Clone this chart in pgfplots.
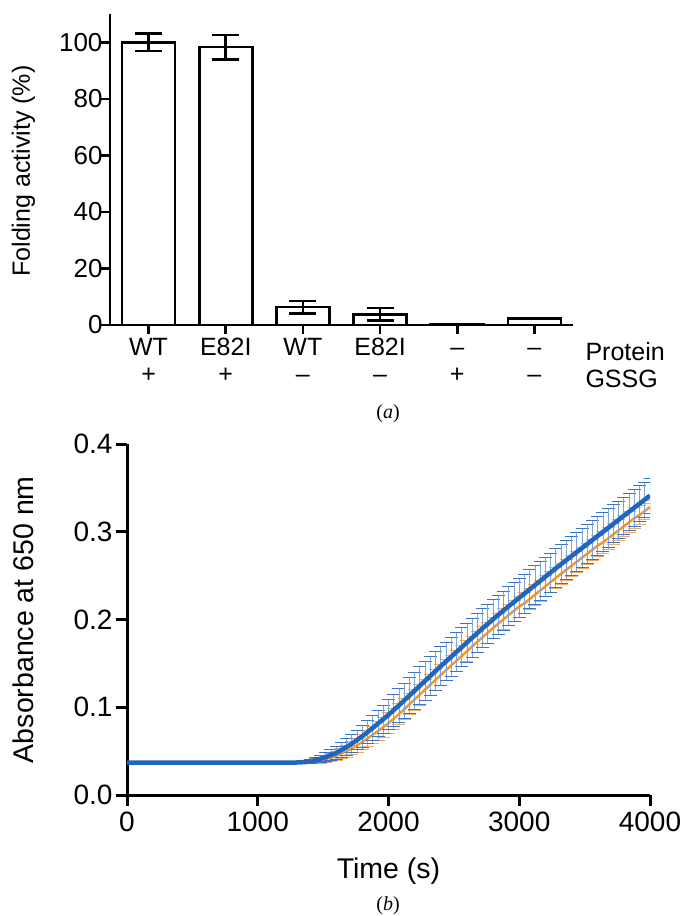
\documentclass[border=0pt]{standalone}
\usepackage{fontspec}
\setmainfont{Liberation Sans}
\newfontfamily\capfont{Liberation Serif}
\usepackage{pgfplots}
\usepackage{pgfplotstable}
\pgfplotsset{compat=1.18}
\definecolor{blueline}{RGB}{33,102,188}
\definecolor{blueerr}{RGB}{125,165,218}
\definecolor{bluecap}{RGB}{60,115,195}
\definecolor{orangeline}{RGB}{240,150,50}
\definecolor{orangeerr}{RGB}{236,170,100}

% absorbance traces: t, blue mean, blue sd, orange mean, orange sd
\pgfplotstableread{
t b be o oe
0 0.0370 0.0010 0.0370 0.0010
40 0.0370 0.0010 0.0370 0.0010
80 0.0370 0.0010 0.0370 0.0010
120 0.0370 0.0010 0.0370 0.0010
160 0.0370 0.0010 0.0370 0.0010
200 0.0370 0.0010 0.0370 0.0010
240 0.0370 0.0010 0.0370 0.0010
280 0.0370 0.0010 0.0370 0.0010
320 0.0370 0.0010 0.0370 0.0010
360 0.0370 0.0010 0.0370 0.0010
400 0.0370 0.0010 0.0370 0.0010
440 0.0370 0.0010 0.0370 0.0010
480 0.0370 0.0010 0.0370 0.0010
520 0.0370 0.0010 0.0370 0.0010
560 0.0370 0.0010 0.0370 0.0010
600 0.0370 0.0010 0.0370 0.0010
640 0.0370 0.0010 0.0370 0.0010
680 0.0370 0.0010 0.0370 0.0010
720 0.0370 0.0010 0.0370 0.0010
760 0.0370 0.0010 0.0370 0.0010
800 0.0370 0.0010 0.0370 0.0010
840 0.0370 0.0010 0.0370 0.0010
880 0.0370 0.0010 0.0370 0.0010
920 0.0370 0.0010 0.0370 0.0010
960 0.0370 0.0010 0.0370 0.0010
1000 0.0370 0.0010 0.0370 0.0010
1040 0.0370 0.0010 0.0370 0.0010
1080 0.0370 0.0010 0.0370 0.0010
1120 0.0370 0.0010 0.0370 0.0010
1160 0.0370 0.0010 0.0370 0.0010
1200 0.0370 0.0010 0.0370 0.0010
1240 0.0370 0.0010 0.0370 0.0010
1280 0.0370 0.0010 0.0370 0.0010
1320 0.0372 0.0012 0.0371 0.0012
1360 0.0376 0.0016 0.0373 0.0015
1400 0.0385 0.0022 0.0377 0.0020
1440 0.0399 0.0032 0.0386 0.0027
1480 0.0413 0.0042 0.0395 0.0034
1520 0.0432 0.0052 0.0408 0.0040
1560 0.0456 0.0062 0.0426 0.0047
1600 0.0480 0.0072 0.0444 0.0054
1640 0.0514 0.0082 0.0472 0.0060
1680 0.0548 0.0092 0.0500 0.0067
1720 0.0586 0.0102 0.0532 0.0074
1760 0.0628 0.0112 0.0568 0.0080
1800 0.0670 0.0122 0.0604 0.0087
1840 0.0718 0.0132 0.0646 0.0094
1880 0.0766 0.0142 0.0688 0.0100
1920 0.0815 0.0152 0.0731 0.0107
1960 0.0865 0.0162 0.0775 0.0114
2000 0.0915 0.0172 0.0820 0.0120
2040 0.0969 0.0182 0.0869 0.0120
2080 0.1023 0.0192 0.0923 0.0120
2120 0.1078 0.0200 0.0978 0.0120
2160 0.1134 0.0206 0.1034 0.0120
2200 0.1190 0.0212 0.1090 0.0120
2240 0.1246 0.0218 0.1146 0.0120
2280 0.1302 0.0222 0.1202 0.0120
2320 0.1358 0.0222 0.1258 0.0120
2360 0.1414 0.0222 0.1314 0.0120
2400 0.1470 0.0222 0.1370 0.0120
2440 0.1524 0.0222 0.1424 0.0120
2480 0.1578 0.0222 0.1478 0.0120
2520 0.1632 0.0222 0.1532 0.0120
2560 0.1686 0.0222 0.1586 0.0120
2600 0.1740 0.0222 0.1640 0.0120
2640 0.1794 0.0222 0.1694 0.0120
2680 0.1848 0.0222 0.1748 0.0120
2720 0.1901 0.0222 0.1801 0.0120
2760 0.1953 0.0222 0.1853 0.0120
2800 0.2005 0.0222 0.1905 0.0120
2840 0.2055 0.0222 0.1955 0.0120
2880 0.2105 0.0222 0.2005 0.0120
2920 0.2154 0.0222 0.2054 0.0120
2960 0.2202 0.0222 0.2102 0.0120
3000 0.2250 0.0222 0.2150 0.0120
3040 0.2298 0.0222 0.2188 0.0120
3080 0.2346 0.0222 0.2236 0.0120
3120 0.2394 0.0222 0.2284 0.0120
3160 0.2442 0.0222 0.2332 0.0120
3200 0.2490 0.0222 0.2380 0.0120
3240 0.2538 0.0222 0.2428 0.0120
3280 0.2586 0.0222 0.2476 0.0120
3320 0.2633 0.0222 0.2523 0.0120
3360 0.2679 0.0222 0.2569 0.0120
3400 0.2725 0.0222 0.2615 0.0120
3440 0.2771 0.0222 0.2661 0.0120
3480 0.2817 0.0222 0.2707 0.0120
3520 0.2863 0.0222 0.2753 0.0120
3560 0.2909 0.0222 0.2799 0.0120
3600 0.2955 0.0222 0.2845 0.0120
3640 0.3001 0.0220 0.2881 0.0120
3680 0.3047 0.0218 0.2927 0.0120
3720 0.3093 0.0216 0.2973 0.0120
3760 0.3139 0.0214 0.3019 0.0120
3800 0.3185 0.0212 0.3065 0.0120
3840 0.3231 0.0210 0.3111 0.0120
3880 0.3277 0.0208 0.3157 0.0120
3920 0.3323 0.0205 0.3193 0.0110
3960 0.3369 0.0202 0.3239 0.0090
4000 0.3415 0.0200 0.3285 0.0070
}\absdata

\begin{document}
\begin{tikzpicture}
\path[use as bounding box] (0pt,0pt) rectangle (681pt,-916pt);

% (a) folding activity
\begin{axis}[
  at={(110pt,-325pt)}, anchor=south west,
  scale only axis, width=463pt, height=311pt,
  xmin=-0.5, xmax=5.5, ymin=0, ymax=110,
  axis lines=left,
  axis line style={-, line width=2.6pt},
  x axis line style={-}, y axis line style={-},
  ytick={0,20,40,60,80,100}, xtick={0,1,2,3,4,5},
  xticklabels={{\strut WT\\\strut +},{\strut E82I\\\strut +},{\strut WT\\\strut –},
               {\strut E82I\\\strut –},{\strut –\\\strut +},{\strut –\\\strut –}},
  tick align=outside, major tick length=9pt,
  tick style={line width=2.6pt, black},
  yticklabel style={font=\fontsize{26}{28}\selectfont, xshift=5pt},
  xticklabel style={font=\fontsize{25}{27}\selectfont, align=center, yshift=1.2pt},
  /pgf/number format/assume math mode=true,
  ylabel={Folding activity (\%)},
  ylabel style={font=\fontsize{25}{27}\selectfont,
    at={(axis description cs:-0.173,0.495)}, anchor=base},
]
\addplot[ybar, bar width=53pt, fill=white, draw=black, line width=2.6pt,
  error bars/.cd, y dir=both, y explicit,
  error bar style={line width=2.6pt, black},
  error mark options={rotate=90, mark size=13.5pt, line width=2.6pt, black}]
  coordinates {(0,100) +- (0,3.1) (1,98.3) +- (0,4.3) (2,6.3) +- (0,2.25)
               (3,3.8) +- (0,2.2) (4,0.3) +- (0,0) (5,2.4) +- (0,0)};
\end{axis}
\node[anchor=base west, font=\fontsize{25}{27}\selectfont] at (582pt,-360pt) {Protein};
\node[anchor=base west, font=\fontsize{25}{27}\selectfont] at (582pt,-387pt) {GSSG};
\node[font=\capfont\fontsize{20}{22}\selectfont] at (388pt,-414pt) {(\textit{a})};

% (b) absorbance
\begin{axis}[
  at={(127pt,-795pt)}, anchor=south west,
  scale only axis, width=523pt, height=350.7pt,
  xmin=0, xmax=4000, ymin=0, ymax=0.4,
  axis lines=left,
  axis line style={-, line width=3pt},
  x axis line style={-}, y axis line style={-},
  xtick={0,1000,2000,3000,4000}, ytick={0,0.1,0.2,0.3,0.4},
  tick align=outside, major tick length=11pt,
  tick style={line width=3pt, black},
  tick label style={font=\fontsize{28}{30}\selectfont},
  yticklabel style={/pgf/number format/.cd, fixed, fixed zerofill, precision=1},
  xticklabel style={yshift=-2pt},
  /pgf/number format/1000 sep={},
  /pgf/number format/assume math mode=true,
  xlabel={Time (s)}, ylabel={Absorbance at 650 nm},
  label style={font=\fontsize{28.5}{30}\selectfont},
  xlabel style={at={(axis description cs:0.5,-0.2367)}, anchor=base},
  ylabel style={at={(axis description cs:-0.1797,0.5)}, anchor=base},
]
\addplot[draw=none, mark=none, forget plot,
  error bars/.cd, y dir=both, y explicit,
  error bar style={draw=orangeerr, line width=0.8pt},
  error mark options={rotate=90, mark size=6.5pt, draw=orangeerr, line width=0.8pt}]
  table[x=t, y=o, y error=oe] {\absdata};
\addplot[orangeline, line width=2.5pt, mark=none] table[x=t, y=o] {\absdata};
\addplot[draw=none, mark=none, forget plot,
  error bars/.cd, y dir=both, y explicit,
  error bar style={draw=blueerr, line width=0.8pt},
  error mark options={rotate=90, mark size=6.5pt, draw=bluecap, line width=0.8pt}]
  table[x=t, y=b, y error=be] {\absdata};
\addplot[blueline, line width=4.5pt, mark=none] table[x=t, y=b] {\absdata};
\end{axis}
\node[font=\capfont\fontsize{20}{22}\selectfont] at (388pt,-906pt) {(\textit{b})};
\end{tikzpicture}
\end{document}
